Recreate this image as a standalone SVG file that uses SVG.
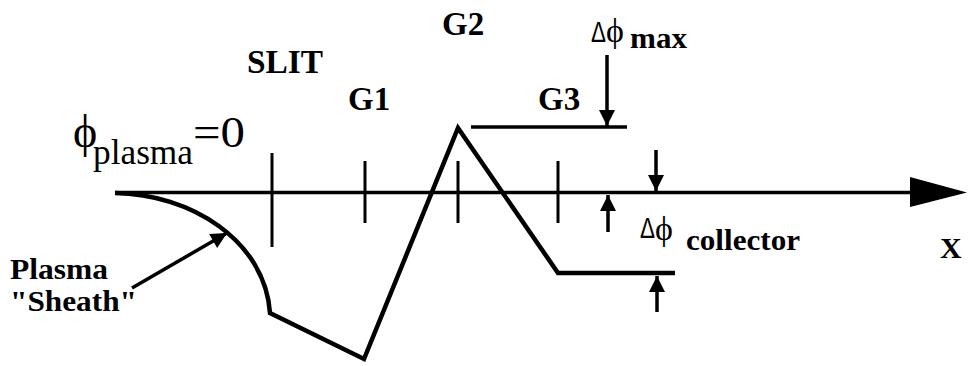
<svg xmlns="http://www.w3.org/2000/svg" width="968" height="366" viewBox="0 0 968 366">
<style>
.ln{fill:none;stroke:#000;stroke-linecap:butt}
text{font-family:'Liberation Serif','Times New Roman','DejaVu Serif',serif;fill:#000}
.b{font-weight:bold}
.d{font-family:'Liberation Sans','DejaVu Sans',sans-serif;font-size:30px}
.p{font-size:34px}
.s{font-weight:bold;font-size:30px}
.c{stroke:#000;stroke-width:3.5;fill:none}
</style>
<defs>
<marker id="ah" viewBox="0 0 10 10" refX="10" refY="5" markerWidth="28" markerHeight="16" markerUnits="userSpaceOnUse" orient="auto"><path d="M0,0 L10,5 L0,10 z" fill="#000"/></marker>
</defs>
<rect width="968" height="366" fill="#fff"/>
<g id="axis">
<line class="ln" x1="115" y1="192.5" x2="915" y2="192.5" stroke-width="3.5"/>
<polygon points="910,177 967,192.5 910,207" fill="#000"/>
</g>
<g id="ticks">
<line class="ln" x1="272" y1="153" x2="272" y2="247" stroke-width="3"/>
<line class="ln" x1="365" y1="161" x2="365" y2="223" stroke-width="3"/>
<line class="ln" x1="458" y1="161" x2="458" y2="223" stroke-width="3"/>
<line class="ln" x1="558" y1="161" x2="558" y2="223" stroke-width="3"/>
</g>
<g id="potential">
<path class="ln" d="M115,193 C190,194 265,240 270,313 L364,359 L458,128 L558,273 L675,273" stroke-width="4.5" stroke-linejoin="miter" stroke-miterlimit="10"/>
<line class="ln" x1="471" y1="127" x2="627" y2="127" stroke-width="3.5"/>
</g>
<g id="connectors">
<line class="c" x1="607" y1="55" x2="607" y2="126" marker-end="url(#ah)"/>
<line class="c" x1="656" y1="150" x2="656" y2="191" marker-end="url(#ah)"/>
<line class="c" x1="608" y1="232" x2="608" y2="195" marker-end="url(#ah)"/>
<line class="c" x1="657" y1="312" x2="657" y2="276" marker-end="url(#ah)"/>
<line class="c" x1="132" y1="288" x2="227" y2="233" marker-end="url(#ah)"/>
</g>
<g id="label-slit"><text class="b" x="247" y="73" font-size="33" textLength="76" lengthAdjust="spacingAndGlyphs">SLIT</text></g>
<g id="label-g1"><text class="b" x="348" y="110" font-size="33">G1</text></g>
<g id="label-g2"><text class="b" x="442" y="35" font-size="33">G2</text></g>
<g id="label-g3"><text class="b" x="538" y="110" font-size="33">G3</text></g>
<g id="label-dphimax">
<text x="591" y="42"><tspan class="d" textLength="15" lengthAdjust="spacingAndGlyphs">Δ</tspan><tspan class="p">ϕ</tspan><tspan class="s" x="630" dy="6" textLength="57" lengthAdjust="spacingAndGlyphs">max</tspan></text>
</g>
<g id="label-dphicollector">
<text x="640" y="238"><tspan class="d" textLength="15" lengthAdjust="spacingAndGlyphs">Δ</tspan><tspan class="p" dy="2">ϕ</tspan><tspan class="s" x="686" dy="10" textLength="114" lengthAdjust="spacingAndGlyphs">collector</tspan></text>
</g>
<g id="label-phiplasma">
<text x="73" y="147"><tspan font-size="46">ϕ</tspan><tspan x="93" dy="17" font-size="35" textLength="100" lengthAdjust="spacingAndGlyphs">plasma</tspan><tspan x="193" dy="-17" font-size="44" textLength="52" lengthAdjust="spacingAndGlyphs">=0</tspan></text>
</g>
<g id="label-sheath">
<text class="b" x="10" y="279" font-size="30" textLength="98" lengthAdjust="spacingAndGlyphs">Plasma</text>
<text class="b" x="10" y="311" font-size="30" textLength="127" lengthAdjust="spacingAndGlyphs">"Sheath"</text>
</g>
<g id="label-x"><text class="b" x="940" y="258" font-size="30">X</text></g>
</svg>
